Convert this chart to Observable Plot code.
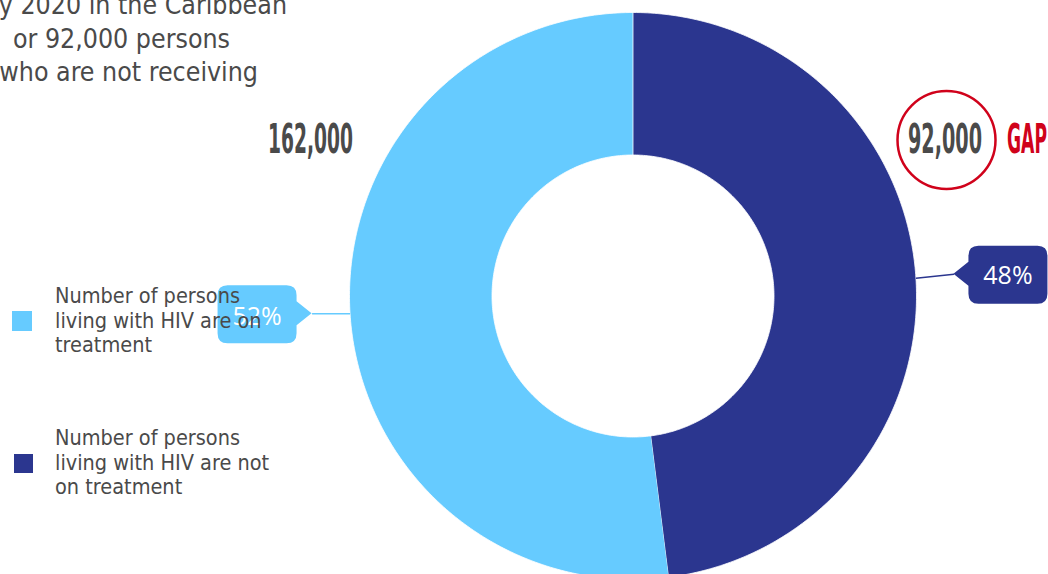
<!DOCTYPE html>
<html><head><meta charset="utf-8">
<script src="https://cdn.jsdelivr.net/npm/d3@7"></script>
<script src="https://cdn.jsdelivr.net/npm/@observablehq/plot@0.6"></script>
<style>
html,body{margin:0;padding:0;background:#fff;overflow:hidden}
#chart{position:relative;width:1048px;height:574px;overflow:hidden}
</style></head><body><div id="chart"></div>
<script>
// ---- data ----
const categories = ["Number of persons living with HIV are not on treatment", "Number of persons living with HIV are on treatment"];
const shares = [48, 52];
const shareLabels = ["48%", "52%"];
const countLabels = ["92,000", "162,000"];
const gapLabel = "GAP";
const colors = ["#2B368F", "#66CBFF"];
const introLines = ["by 2020 in the Caribbean", "or 92,000 persons", "who are not receiving"];
const legendOrder = [1, 0];
const legendLines = [["Number of persons", "living with HIV are not", "on treatment"], ["Number of persons", "living with HIV are on", "treatment"]];

// ---- layout ----
const W = 1048, H = 574, cx = 632.5, cy = 295.5, R = 283.5, innerR = 141 / 283.5;
const TEXT = "#4a4a4a", RED = "#D0021B";
const bodyFont = "'DejaVu Sans Condensed', 'DejaVu Sans', sans-serif";
const boldFont = "'Liberation Sans Narrow', 'DejaVu Sans Condensed', sans-serif";

const total = d3.sum(shares);
let acc = 0;
const ring = [], mids = [];
shares.forEach((v, i) => {
  const a0 = acc / total * 2 * Math.PI, a1 = (acc + v) / total * 2 * Math.PI;
  acc += v;
  mids.push((a0 + a1) / 2);
  const n = 240;
  for (let k = 0; k <= n; k++) { const a = a0 + (a1 - a0) * k / n; ring.push({cat: categories[i], x: Math.sin(a), y: Math.cos(a)}); }
  for (let k = n; k >= 0; k--) { const a = a0 + (a1 - a0) * k / n; ring.push({cat: categories[i], x: innerR * Math.sin(a), y: innerR * Math.cos(a)}); }
});

// callouts: leader from slice mid-angle on outer edge, horizontal offset to box pointer
const callouts = shares.map((v, i) => {
  const a = mids[i], side = Math.sin(a) >= 0 ? 1 : -1;
  return {label: shareLabels[i], cat: categories[i], side,
    x1: Math.sin(a), y1: Math.cos(a),
    x2: Math.sin(a) + side * 38 / R, y2: Math.cos(a) + 4 / R * (side > 0 ? 1 : 0)};
});

const plot = Plot.plot({
  width: W, height: H, margin: 0,
  x: {domain: [-cx / R, (W - cx) / R], axis: null},
  y: {domain: [(cy - H) / R, cy / R], axis: null},
  color: {domain: categories, range: colors},
  style: {background: "transparent", overflow: "visible"},
  marks: [
    Plot.line(ring, {x: "x", y: "y", z: "cat", fill: "cat", stroke: "white", strokeWidth: 0.8}),
    Plot.link(callouts, {x1: "x1", y1: "y1", x2: "x2", y2: "y2", stroke: "cat", strokeWidth: 1.5})
  ]
});
document.getElementById("chart").appendChild(plot);

const svg = d3.select(plot);
const xs = plot.scale("x"), ys = plot.scale("y");
const px = v => xs.apply(v), py = v => ys.apply(v);
const col = c => plot.scale("color").apply(c);

// callout boxes
const bw = 79, bh = 58, pw = 15, ph = 12, cr = 10;
callouts.forEach(c => {
  const tx = px(c.x2), ty = py(c.y2);
  let d, L;
  if (c.side > 0) {
    L = tx + pw; const T = ty - 28, Rr = L + bw, B = T + bh;
    d = `M${tx},${ty} L${L},${ty - ph} L${L},${T + cr} Q${L},${T} ${L + cr},${T} L${Rr - cr},${T} Q${Rr},${T} ${Rr},${T + cr} L${Rr},${B - cr} Q${Rr},${B} ${Rr - cr},${B} L${L + cr},${B} Q${L},${B} ${L},${B - cr} L${L},${ty + ph} Z`;
  } else {
    const Rr = tx - pw, T = ty - 28, B = T + bh; L = Rr - bw;
    d = `M${tx},${ty} L${Rr},${ty + ph} L${Rr},${B - cr} Q${Rr},${B} ${Rr - cr},${B} L${L + cr},${B} Q${L},${B} ${L},${B - cr} L${L},${T + cr} Q${L},${T} ${L + cr},${T} L${Rr - cr},${T} Q${Rr},${T} ${Rr},${T + cr} L${Rr},${ty - ph} Z`;
  }
  svg.append("path").attr("d", d).attr("fill", col(c.cat));
  svg.append("text").attr("x", L + bw / 2).attr("y", ty + (c.side > 0 ? 10 : 12)).attr("text-anchor", "middle")
    .attr("font-family", "'Open Sans', sans-serif").attr("font-size", 25).attr("fill", "white").text(c.label);
});

// big counts
const bigTexts = [
  {t: countLabels[1], x: 268, w: 85, fill: TEXT},
  {t: countLabels[0], x: 908, w: 74, fill: TEXT},
  {t: gapLabel, x: 1007, w: 40, fill: RED}
];
bigTexts.forEach(b => {
  svg.append("text").attr("x", b.x).attr("y", 153).attr("text-anchor", "start").attr("font-family", boldFont).attr("font-weight", 700)
    .attr("font-size", 40).attr("fill", b.fill).attr("textLength", b.w).attr("lengthAdjust", "spacingAndGlyphs").text(b.t);
});
svg.append("circle").attr("cx", 946.5).attr("cy", 140).attr("r", 49).attr("fill", "none").attr("stroke", RED).attr("stroke-width", 2.5);

// intro text (cropped at the left)
const introEnds = [287, 230, 258];
introLines.forEach((t, i) => {
  svg.append("text").attr("x", introEnds[i]).attr("y", 14 + i * 33.5).attr("text-anchor", "end")
    .attr("font-family", bodyFont).attr("font-size", 26.5).attr("fill", TEXT).text(t);
});

// legend
const legendTop = [303, 445];
legendOrder.forEach((ci, j) => {
  svg.append("rect").attr("x", 12 + j * 2).attr("y", legendTop[j] + 8 + (j ? 1 : 0)).attr("width", 20 - j).attr("height", 20 - j)
    .attr("fill", col(categories[ci]));
  legendLines[ci].forEach((t, k) => {
    svg.append("text").attr("x", 55).attr("y", legendTop[j] + k * 24.5).attr("text-anchor", "start")
      .attr("font-family", bodyFont).attr("font-size", 21.5).attr("fill", TEXT).text(t);
  });
});
</script></body></html>
